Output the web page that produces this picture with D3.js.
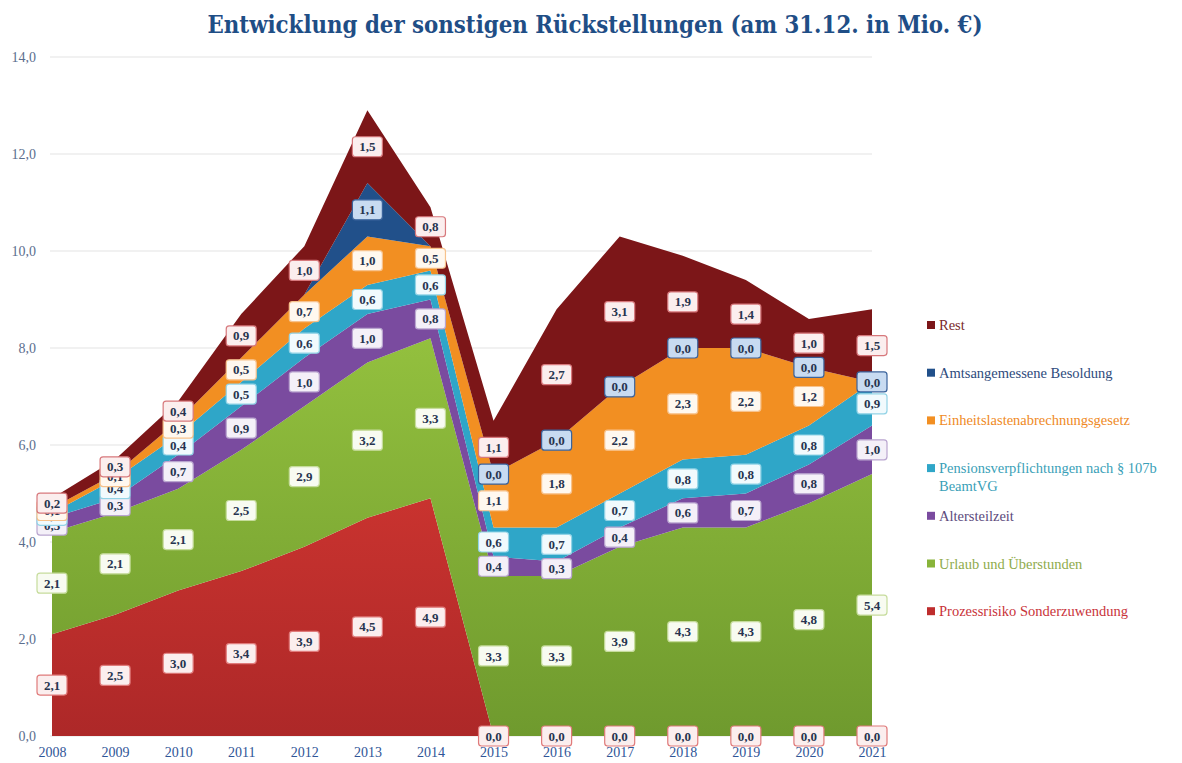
<!DOCTYPE html>
<html>
<head>
<meta charset="utf-8">
<title>Sonstige Rückstellungen</title>
<style>
body { margin: 0; background: #fff; }
.tick text { font-family: "Liberation Serif", serif; }
</style>
</head>
<body>
<script src="https://cdn.jsdelivr.net/npm/d3@7"></script>
<script>

// years
var years = [2008, 2009, 2010, 2011, 2012, 2013, 2014, 2015, 2016, 2017, 2018, 2019, 2020, 2021];

// series, bottom to top (null = no value shown)
var prozessrisiko = [2.1, 2.5, 3.0, 3.4, 3.9, 4.5, 4.9, 0.0, 0.0, 0.0, 0.0, 0.0, 0.0, 0.0];
var urlaub        = [2.1, 2.1, 2.1, 2.5, 2.9, 3.2, 3.3, 3.3, 3.3, 3.9, 4.3, 4.3, 4.8, 5.4];
var altersteilzeit= [0.3, 0.3, 0.7, 0.9, 1.0, 1.0, 0.8, 0.4, 0.3, 0.4, 0.6, 0.7, 0.8, 1.0];
var pensionen     = [0.1, 0.4, 0.4, 0.5, 0.6, 0.6, 0.6, 0.6, 0.7, 0.7, 0.8, 0.8, 0.8, 0.9];
var einheitslast  = [0.1, 0.1, 0.3, 0.5, 0.7, 1.0, 0.5, 1.1, 1.8, 2.2, 2.3, 2.2, 1.2, null];
var besoldung     = [null, null, null, null, null, 1.1, null, 0.0, 0.0, 0.0, 0.0, 0.0, 0.0, 0.0];
var rest          = [0.2, 0.3, 0.4, 0.9, 1.0, 1.5, 0.8, 1.1, 2.7, 3.1, 1.9, 1.4, 1.0, 1.5];

var yTicks = [0, 2, 4, 6, 8, 10, 12, 14];

var series = [
  {key: "prozess", name: "Prozessrisiko Sonderzuwendung", values: prozessrisiko,
   color: "#be2d2d", text: "#c9333a", lborder: "#e07b7b", lfill: "#fbeeee"},
  {key: "urlaub", name: "Urlaub und Überstunden", values: urlaub,
   color: "#88b43a", text: "#8fab4c", lborder: "#c6dc9c", lfill: "#f8fbf1"},
  {key: "alters", name: "Altersteilzeit", values: altersteilzeit,
   color: "#7a4b9f", text: "#5c4a7c", lborder: "#b9a5cf", lfill: "#f4f0f8"},
  {key: "pension", name: "Pensionsverpflichtungen nach § 107b|BeamtVG", values: pensionen,
   color: "#2fa6c8", text: "#3a9fb8", lborder: "#92d3e6", lfill: "#f1fafd"},
  {key: "einheit", name: "Einheitslastenabrechnungsgesetz", values: einheitslast,
   color: "#f28f22", text: "#ef8a25", lborder: "#f7c28c", lfill: "#fff8ef"},
  {key: "besold", name: "Amtsangemessene Besoldung", values: besoldung,
   color: "#21508a", text: "#2e4b7c", lborder: "#3a639c", lfill: "#c8dbf1"},
  {key: "rest", name: "Rest", values: rest,
   color: "#7c1618", text: "#7a2a2c", lborder: "#d7787c", lfill: "#fbeeee"}
];

var width = 1182, height = 763;

var svg = d3.select("body").append("svg")
    .attr("width", width)
    .attr("height", height);

// table for the stack
var table = years.map(function(y, i) {
  var row = {year: y};
  series.forEach(function(s) { row[s.key] = s.values[i] == null ? 0 : s.values[i]; });
  return row;
});

var stacked = d3.stack().keys(series.map(function(s) { return s.key; }))(table);

var x = d3.scalePoint().domain(years).range([52, 872]);
var y = d3.scaleLinear().domain([0, 14]).range([736, 57]);

var fmt = function(v) { return d3.format(".1f")(v).replace(".", ","); };

// title
svg.append("text")
    .attr("x", 595)
    .attr("y", 33)
    .attr("text-anchor", "middle")
    .attr("font-family", "'DejaVu Serif Condensed', 'Liberation Serif', serif")
    .attr("font-weight", "bold")
    .attr("font-size", 25)
    .attr("fill", "#1f4e86")
    .attr("textLength", 775)
    .attr("lengthAdjust", "spacingAndGlyphs")
    .text("Entwicklung der sonstigen Rückstellungen (am 31.12. in Mio. €)");

// grid
svg.append("g")
  .selectAll("line")
  .data(yTicks)
  .enter().append("line")
    .attr("x1", 50).attr("x2", 872)
    .attr("y1", function(d) { return y(d); })
    .attr("y2", function(d) { return y(d); })
    .attr("stroke", "#e3e3e3")
    .attr("stroke-width", 1);

// y axis labels
var yAxis = svg.append("g")
    .attr("transform", "translate(42,0)")
    .call(d3.axisLeft(y).tickValues(yTicks).tickFormat(fmt).tickSize(0).tickPadding(6));
yAxis.select(".domain").remove();
yAxis.selectAll("text").attr("font-size", 14).attr("fill", "#5b6e8e");

// gradients for the two big areas
var defs = svg.append("defs");
function grad(id, top, bottom) {
  var g = defs.append("linearGradient").attr("id", id)
      .attr("x1", 0).attr("y1", 0).attr("x2", 0).attr("y2", 1);
  g.append("stop").attr("offset", "0%").attr("stop-color", top);
  g.append("stop").attr("offset", "100%").attr("stop-color", bottom);
}
grad("g-urlaub", "#93c03e", "#6f9a2e");
grad("g-prozess", "#c9332f", "#ad2828");

var area = d3.area()
    .x(function(d) { return x(d.data.year); })
    .y0(function(d) { return y(d[0]); })
    .y1(function(d) { return y(d[1]); });

svg.append("g")
  .selectAll("path")
  .data(stacked)
  .enter().append("path")
    .attr("d", area)
    .attr("fill", function(d, i) {
      if (series[i].key == "urlaub") return "url(#g-urlaub)";
      if (series[i].key == "prozess") return "url(#g-prozess)";
      return series[i].color;
    });

// x axis labels
var xAxis = svg.append("g")
    .attr("transform", "translate(0,741)")
    .call(d3.axisBottom(x).tickSize(0).tickPadding(6));
xAxis.select(".domain").remove();
xAxis.selectAll("text").attr("font-size", 14).attr("fill", "#2f5597");

// data labels
var labels = svg.append("g");
stacked.forEach(function(layer, i) {
  var s = series[i];
  layer.forEach(function(d, j) {
    if (s.values[j] == null) return;
    var cy = y((d[0] + d[1]) / 2);
    var cx = x(d.data.year);
    var g = labels.append("g").attr("transform", "translate(" + cx + "," + cy + ")");
    g.append("rect")
        .attr("x", -15).attr("y", -10)
        .attr("width", 30).attr("height", 20)
        .attr("rx", 3)
        .attr("fill", s.lfill)
        .attr("stroke", s.lborder)
        .attr("stroke-width", 1.2);
    g.append("text")
        .attr("text-anchor", "middle")
        .attr("dy", "0.35em")
        .attr("font-family", "'Liberation Serif', serif")
        .attr("font-weight", "bold")
        .attr("font-size", 13)
        .attr("fill", "#27344f")
        .text(fmt(s.values[j]));
  });
});

// legend (top entry = top series)
var legend = svg.append("g");
series.slice().reverse().forEach(function(s, i) {
  var ly = 326 + i * 47.7;
  legend.append("rect")
      .attr("x", 927).attr("y", ly - 5)
      .attr("width", 8).attr("height", 8)
      .attr("fill", s.color);
  var t = legend.append("text")
      .attr("x", 939).attr("y", ly + 4)
      .attr("font-family", "'Liberation Serif', serif")
      .attr("font-size", 14.5)
      .attr("fill", s.text);
  s.name.split("|").forEach(function(part, k) {
    t.append("tspan").attr("x", 939).attr("dy", k == 0 ? 0 : 18).text(part);
  });
});

</script>
</body>
</html>
